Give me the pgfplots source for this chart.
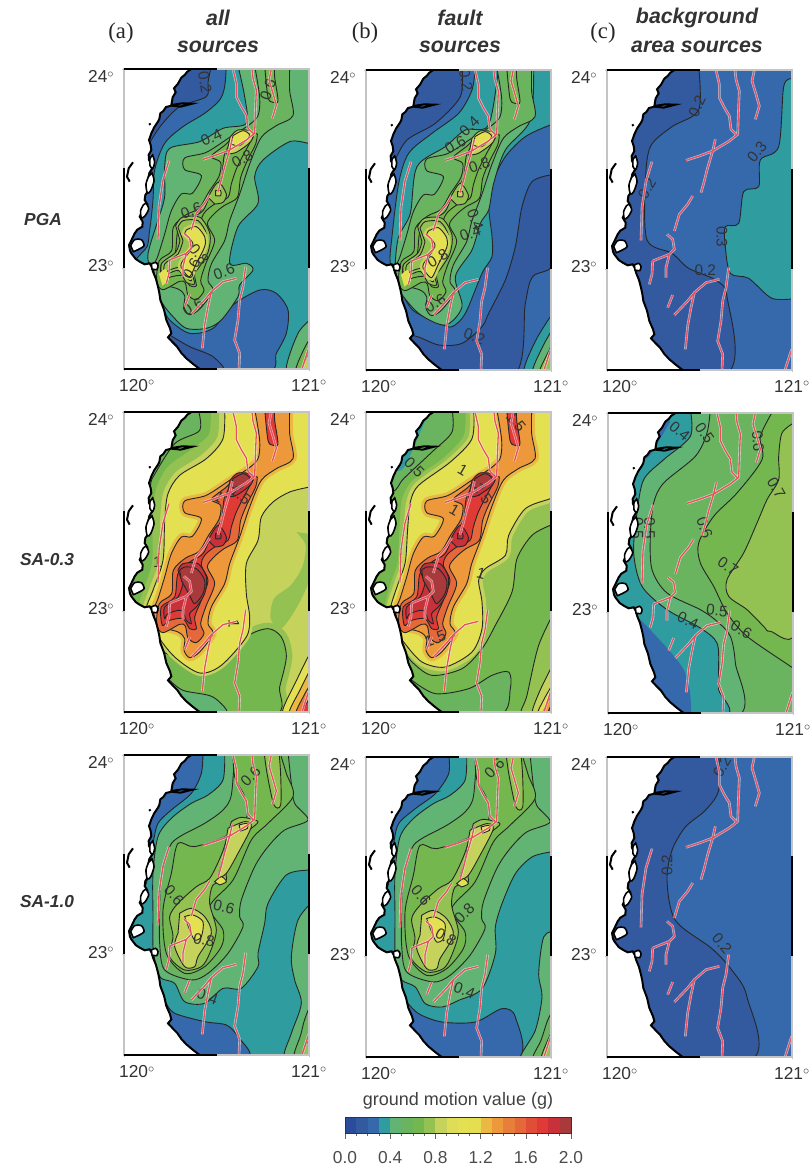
\documentclass[border=0pt]{standalone}
\usepackage{pgfplots}
\usepackage{pgfplotstable}
\usepackage{fontspec}
\pgfplotsset{compat=1.18}
\setmainfont{Liberation Sans}
\newfontfamily\serif{Liberation Serif}
\newdimen\pxu \pxu=0.75pt
\definecolor{c0}{HTML}{2B4C9B}\definecolor{c1}{HTML}{33599F}\definecolor{c2}{HTML}{3668AC}\definecolor{c3}{HTML}{2F9CA0}
\definecolor{c4}{HTML}{62B474}\definecolor{c5}{HTML}{6AB35F}\definecolor{c6}{HTML}{74B74F}\definecolor{c7}{HTML}{93C152}
\definecolor{c8}{HTML}{C5D25C}\definecolor{c9}{HTML}{DEDD57}\definecolor{c10}{HTML}{E3E052}\definecolor{c11}{HTML}{E5DE50}
\definecolor{c12}{HTML}{EBB943}\definecolor{c13}{HTML}{EC983B}\definecolor{c14}{HTML}{E77F3A}\definecolor{c15}{HTML}{E4683A}
\definecolor{c16}{HTML}{E04E38}\definecolor{c17}{HTML}{DF3A36}\definecolor{c18}{HTML}{C8303A}\definecolor{c19}{HTML}{A83A3C}
\definecolor{frm}{HTML}{C4C4C4}\definecolor{txt}{HTML}{333333}
\newcommand\Tab[2]{\pgfplotstableread[row sep=crcr]{#2}#1}
% ---- shared geometry, in units of 1/555 degree lon and 1/597 degree lat from the NW corner
\Tab\tFull{-20 -20\\590 -20\\590 920\\-20 920\\}
\Tab\tSea{202 -20\\202 0\\190 8\\182 18\\172 26\\162 44\\150 58\\155 70\\146 85\\142 108\\126 114\\118 126\\109 133\\106 150\\102 158\\90 176\\82 193\\78 205\\75 213\\80 228\\82 243\\74 258\\75 273\\83 286\\85 298\\76 312\\72 333\\78 348\\75 363\\64 378\\62 393\\70 406\\69 418\\54 430\\47 443\\56 458\\55 473\\40 482\\32 493\\24 510\\15 528\\18 545\\22 553\\35 570\\47 578\\62 586\\77 583\\84 595\\87 608\\96 630\\102 653\\106 672\\109 693\\120 722\\127 753\\138 778\\142 793\\132 805\\146 820\\159 833\\172 852\\187 868\\206 884\\227 900\\240 920\\-20 920\\-20 -20\\}
\Tab\tCoast{202 -20\\202 0\\190 8\\182 18\\172 26\\162 44\\150 58\\155 70\\146 85\\142 108\\175 103\\205 104\\170 113\\142 110\\126 114\\118 126\\109 133\\106 150\\102 158\\90 176\\82 193\\78 205\\75 213\\80 228\\82 243\\74 258\\75 273\\83 286\\85 298\\76 312\\72 333\\78 348\\75 363\\64 378\\62 393\\70 406\\69 418\\54 430\\47 443\\56 458\\55 473\\40 482\\32 493\\24 510\\15 528\\18 545\\22 553\\35 570\\47 578\\62 586\\77 583\\84 595\\87 608\\96 630\\102 653\\106 672\\109 693\\120 722\\127 753\\138 778\\142 793\\132 805\\146 820\\159 833\\172 852\\187 868\\206 884\\227 900\\240 920\\nan nan\\27 280\\14 298\\9 323\\17 338\\nan nan\\76 163\\79 168\\}
\Tab\tPondA{20 530\\32 512\\52 512\\60 530\\42 542\\28 548\\}
\Tab\tPondB{82 585\\95 580\\102 590\\98 602\\84 600\\}
\Tab\tIsA{84 312\\90 335\\80 365\\70 372\\66 345\\74 322\\}
\Tab\tIsB{66 402\\74 420\\62 442\\52 446\\50 425\\58 408\\}
\Tab\tIsC{86 258\\92 280\\86 298\\78 290\\78 268\\}
\Tab\tFault{327 0\\337 43\\337 83\\352 113\\367 138\\372 178\\387 193\\nan nan\\384 0\\387 28\\397 63\\394 133\\392 193\\367 213\\317 243\\277 258\\237 271\\nan nan\\442 0\\435 33\\447 73\\457 108\\445 148\\nan nan\\325 208\\317 243\\302 293\\292 333\\282 368\\nan nan\\257 378\\242 403\\217 433\\202 483\\nan nan\\135 275\\117 333\\105 413\\102 511\\nan nan\\180 493\\197 508\\202 538\\187 553\\137 573\\nan nan\\187 553\\177 593\\177 623\\nan nan\\137 573\\135 613\\127 643\\nan nan\\337 628\\297 638\\262 668\\242 693\\202 735\\nan nan\\197 675\\182 713\\nan nan\\262 668\\252 713\\242 768\\235 838\\nan nan\\365 593\\357 653\\347 693\\342 753\\332 813\\347 853\\345 900\\nan nan\\554 838\\534 900\\}
% ridge, shared by the upper two rows' (a) and (b) panels
\Tab\Pa{392 -10\\407 85\\402 140\\372 170\\317 205\\247 250\\182 267\\182 302\\232 320\\205 373\\172 375\\142 425\\122 495\\102 560\\89 595\\102 640\\162 660\\182 680\\180 715\\197 737\\227 720\\267 665\\252 635\\262 585\\302 515\\317 455\\347 375\\377 285\\412 205\\457 170\\507 140\\497 65\\497 -10\\}
\Tab\Pb{400 195\\395 225\\370 275\\350 325\\340 385\\300 410\\270 435\\250 465\\272 515\\245 585\\230 635\\240 665\\217 692\\192 678\\184 642\\167 637\\117 662\\98 637\\106 575\\143 545\\148 475\\185 438\\225 418\\255 368\\285 322\\290 280\\262 262\\307 225\\347 183\\}
\Tab\Pc{387 205\\362 250\\337 300\\322 345\\312 385\\272 405\\242 430\\232 460\\252 505\\232 565\\212 615\\217 650\\197 650\\177 620\\137 625\\115 640\\112 585\\152 555\\162 485\\197 450\\237 425\\262 370\\292 325\\302 255\\337 195\\}
\Tab\Pdd{155 470\\175 445\\228 445\\258 495\\252 550\\225 595\\207 620\\212 645\\187 640\\165 605\\132 615\\118 632\\112 585\\155 550\\168 515\\}
\Tab\Pd{162 475\\177 455\\222 455\\247 495\\242 545\\217 585\\197 605\\202 635\\187 625\\172 595\\132 605\\122 620\\122 585\\162 555\\177 515\\}
\Tab\Pdt{318 205\\342 183\\386 188\\380 218\\337 250\\308 255\\}
\Tab\Pdm{252 385\\282 340\\307 375\\297 400\\272 405\\}
\Tab\Pe{167 475\\182 465\\217 470\\242 505\\237 545\\212 575\\197 550\\172 505\\}
\Tab\Pf{187 483\\217 473\\242 503\\242 533\\217 583\\197 623\\177 603\\172 583\\207 528\\182 493\\}
\Tab\Pg{105 615\\125 600\\135 630\\115 650\\}
\Tab\Pet{327 200\\357 185\\377 200\\347 230\\322 225\\}
\Tab\Ped{275 365\\290 365\\290 380\\275 380\\}
\Tab\Ptop{422 -10\\432 85\\447 100\\462 95\\452 25\\452 -10\\}
% PGA (a)
\Tab\aN{307 -10\\302 53\\287 93\\242 133\\177 173\\122 223\\92 303\\87 393\\77 483\\62 543\\-20 560\\-20 -10\\}
\Tab\aNd{262 -10\\252 40\\247 83\\167 113\\112 168\\77 223\\70 260\\-20 260\\-20 -10\\}
\Tab\aS{112 708\\137 753\\197 793\\267 778\\327 708\\407 663\\457 673\\492 723\\487 793\\457 853\\427 910\\137 910\\50 708\\}
\Tab\aSd{137 798\\197 833\\267 863\\297 910\\150 910\\100 798\\}
\Tab\aG{342 -10\\362 83\\367 163\\297 178\\227 218\\137 238\\122 293\\122 383\\102 453\\77 533\\72 573\\92 643\\112 698\\147 743\\187 778\\247 778\\292 753\\342 683\\347 648\\387 603\\367 583\\317 583\\342 473\\402 403\\392 323\\417 273\\497 218\\554 223\\570 223\\570 -10\\}
\Tab\seA{570 743\\522 793\\487 910\\570 910\\}
\Tab\seB{570 790\\540 840\\515 910\\570 910\\}
\Tab\seC{570 820\\550 860\\532 910\\570 910\\}
% SA-0.3 (a)
\Tab\bY{302 -10\\297 80\\247 140\\167 190\\132 245\\122 325\\117 445\\87 535\\67 595\\97 665\\152 735\\227 783\\292 760\\367 675\\377 615\\367 545\\367 455\\402 385\\412 315\\447 270\\497 240\\557 225\\570 225\\570 -10\\}
\Tab\bBlob{517 360\\545 400\\535 465\\500 520\\450 560\\440 620\\470 650\\510 600\\550 520\\570 420\\550 365\\}
\Tab\bWa{285 -10\\280 75\\230 130\\155 180\\118 240\\108 325\\105 445\\75 530\\55 600\\85 680\\145 750\\220 800\\295 780\\370 690\\-20 920\\-20 -10\\}
\Tab\bWb{260 -10\\255 65\\205 110\\130 165\\95 235\\85 325\\85 445\\60 530\\40 600\\70 700\\135 770\\220 815\\300 795\\375 710\\-20 920\\-20 -10\\}
\Tab\bSo{60 700\\152 735\\227 783\\292 760\\367 675\\432 650\\472 675\\487 735\\467 825\\447 910\\100 910\\}
\Tab\bWc{222 -10\\227 55\\152 95\\87 195\\70 230\\-20 230\\-20 -10\\}
\Tab\bSt{132 800\\177 835\\267 855\\307 910\\150 910\\100 800\\}
\Tab\sea{570 700\\520 800\\475 910\\570 910\\}
\Tab\seb{570 750\\530 830\\495 910\\570 910\\}
\Tab\sec{570 800\\540 850\\515 910\\570 910\\}
\Tab\sed{570 840\\550 870\\530 910\\570 910\\}
% SA-1.0 (a)
\Tab\dN{237 -10\\232 55\\202 115\\142 165\\102 205\\87 265\\60 400\\-20 400\\-20 -10\\}
\Tab\dS{127 745\\152 775\\242 800\\307 810\\342 845\\367 910\\100 910\\50 745\\}
\Tab\dG{302 -10\\297 75\\252 120\\202 145\\142 190\\102 245\\87 355\\87 485\\87 575\\97 635\\112 670\\152 685\\182 740\\242 745\\297 700\\352 700\\402 635\\402 595\\422 505\\432 445\\487 360\\552 345\\570 345\\570 -10\\}
\Tab\dE{570 435\\522 495\\502 605\\512 675\\532 745\\502 835\\482 910\\570 910\\}
\Tab\dEb{570 745\\555 760\\540 800\\530 840\\510 910\\570 910\\}
\Tab\dEc{570 830\\545 870\\530 910\\570 910\\}
\Tab\dA{332 -10\\322 120\\297 165\\242 205\\167 245\\137 275\\112 365\\107 455\\107 565\\122 645\\202 675\\252 655\\312 595\\357 515\\347 485\\352 435\\392 335\\432 275\\482 225\\552 195\\512 145\\502 85\\492 -10\\}
\Tab\dB{327 -10\\332 65\\362 125\\367 190\\312 240\\212 275\\162 265\\142 355\\117 465\\127 595\\182 655\\242 635\\292 575\\297 525\\257 455\\327 375\\382 255\\432 205\\507 125\\487 55\\467 -10\\}
\Tab\dC{322 200\\352 187\\402 200\\372 230\\332 295\\307 355\\307 375\\267 390\\257 445\\277 525\\257 595\\232 635\\182 645\\137 605\\147 545\\137 485\\162 445\\217 395\\257 370\\292 300\\312 240\\}
\Tab\dT{420 -10\\430 60\\450 150\\470 150\\470 60\\465 -10\\}
\Tab\dD{167 475\\202 460\\242 485\\262 535\\222 605\\212 635\\182 635\\152 575\\162 535\\}
\Tab\dDt{312 220\\362 200\\382 215\\342 295\\307 355\\282 365\\297 310\\}
\Tab\dX{182 485\\207 480\\237 500\\232 545\\212 555\\197 525\\}
\Tab\dXm{272 380\\292 365\\307 380\\287 390\\}
\Tab\dXt{345 210\\370 205\\370 220\\350 228\\}
% SA-1.0 (b)
\Tab\eN{248 -10\\248 50\\208 110\\148 155\\98 200\\83 260\\60 400\\-20 400\\-20 -10\\}
\Tab\eS{118 730\\158 770\\228 795\\328 795\\408 755\\448 780\\448 910\\100 910\\60 730\\}
\Tab\eG{302 -10\\297 70\\252 115\\202 140\\142 185\\102 240\\87 350\\87 480\\88 630\\108 670\\148 690\\178 740\\228 750\\278 730\\348 695\\388 590\\388 510\\408 440\\448 350\\498 300\\553 285\\570 285\\570 -10\\}
\Tab\eE{570 520\\533 540\\518 650\\528 720\\508 820\\463 910\\570 910\\}
\Tab\eEb{570 740\\545 790\\525 850\\500 910\\570 910\\}
\Tab\eEc{570 800\\545 850\\525 910\\570 910\\}
% PGA (b)
\Tab\fD{553 315\\498 335\\468 410\\448 530\\418 630\\368 730\\348 770\\288 820\\218 825\\133 800\\150 920\\440 920\\478 700\\500 620\\570 570\\570 315\\}
\Tab\fN{288 -10\\283 80\\208 160\\123 210\\83 280\\60 340\\-20 340\\-20 -10\\}
\Tab\fT{328 -10\\318 60\\278 130\\198 190\\128 250\\98 340\\78 500\\73 580\\100 650\\140 720\\220 760\\258 770\\298 730\\348 610\\378 560\\378 500\\368 410\\378 340\\418 260\\478 200\\553 165\\570 165\\570 -10\\}
\Tab\fG{398 -10\\368 165\\298 180\\238 230\\153 290\\133 430\\98 500\\88 580\\93 650\\158 730\\238 765\\288 710\\268 620\\318 540\\343 460\\368 420\\383 340\\418 240\\493 150\\503 -10\\}
\Tab\fSa{570 715\\510 810\\475 910\\570 910\\}
\Tab\fSb{570 760\\530 830\\500 910\\570 910\\}
\Tab\fSc{570 800\\545 850\\520 910\\570 910\\}
% SA-0.3 (b)
\Tab\gS{553 340\\498 370\\453 440\\438 540\\388 640\\348 710\\288 770\\198 790\\138 750\\88 690\\-20 690\\-20 920\\570 920\\570 340\\}
\Tab\gA{570 590\\518 700\\483 850\\468 910\\570 910\\}
\Tab\gB{570 740\\520 840\\500 910\\570 910\\}
\Tab\gC{570 800\\535 860\\515 910\\570 910\\}
\Tab\gD{570 830\\550 860\\530 910\\570 910\\}
\Tab\gE{570 860\\555 880\\545 910\\570 910\\}
\Tab\gSt{138 805\\208 845\\308 830\\378 790\\428 780\\433 830\\398 910\\150 910\\100 805\\}
\Tab\gT{168 875\\218 910\\180 910\\150 875\\}
\Tab\gY{323 -10\\318 80\\253 150\\158 220\\133 270\\125 350\\118 450\\98 510\\73 590\\80 640\\113 690\\168 750\\238 765\\318 720\\348 650\\348 570\\338 505\\358 470\\418 430\\428 370\\478 290\\553 260\\570 250\\570 -10\\}
\Tab\gW{258 -10\\258 60\\198 120\\113 200\\78 240\\-20 240\\-20 -10\\}
\Tab\gWa{298 -10\\293 70\\235 135\\140 205\\108 260\\100 350\\95 450\\75 510\\55 590\\65 650\\100 710\\-20 710\\-20 -10\\}
\Tab\gTe{188 0\\118 160\\90 160\\170 -10\\}
% area sources
\Tab\hT{570 25\\555 25\\530 50\\515 230\\460 270\\455 350\\410 365\\395 460\\355 470\\355 530\\370 610\\425 625\\495 685\\570 685\\}
\Tab\hD{275 -10\\275 120\\195 170\\130 230\\115 340\\120 510\\195 550\\245 595\\325 630\\360 680\\360 910\\-20 910\\-20 -10\\}
\Tab\iA{557 30\\522 60\\512 130\\512 200\\477 260\\447 330\\407 420\\357 500\\362 550\\417 590\\467 640\\487 655\\570 635\\570 30\\}
\Tab\iB{497 -10\\457 70\\462 140\\387 240\\317 310\\272 390\\277 450\\317 520\\357 600\\417 670\\547 760\\570 780\\570 920\\-20 920\\-20 -10\\}
\Tab\iC{307 -10\\297 60\\262 130\\167 210\\137 270\\127 370\\132 470\\177 540\\277 590\\327 625\\367 670\\382 750\\387 910\\-20 910\\-20 -10\\}
\Tab\iD{247 -10\\247 70\\167 140\\107 200\\87 300\\77 420\\102 520\\177 590\\277 645\\327 690\\332 770\\332 830\\347 910\\-20 910\\-20 -10\\}
\Tab\iE{97 620\\227 770\\247 910\\187 910\\60 620\\}
\Tab\iF{187 25\\127 125\\110 130\\170 15\\}
\Tab\jD{335 -10\\335 100\\295 160\\235 210\\195 280\\180 370\\205 490\\315 575\\375 640\\420 720\\430 910\\-20 910\\-20 -10\\}
% ---- drawing helpers
\newcommand\R[2]{\addplot[fill=#1,draw=none,smooth,tension=.5] table[x expr=120+\thisrowno{0}/555,y expr=24-\thisrowno{1}/597]{#2} --cycle;}
\newcommand\C[2]{\addplot[fill=#1,draw=black!85,line width=.9\pxu,smooth,tension=.5] table[x expr=120+\thisrowno{0}/555,y expr=24-\thisrowno{1}/597]{#2} --cycle;}
\newcommand\HH[3]{\addplot[draw=#1,line width=#3\pxu,smooth,tension=.5] table[x expr=120+\thisrowno{0}/555,y expr=24-\thisrowno{1}/597]{#2} --cycle;}
\newcommand\lab[4]{\node[rotate=#3,font=\fontsize{11.5}{12}\selectfont,text=black!80,inner sep=0pt] at (axis cs:{120+#1/555},{24-#2/597}) {#4};}
\newcommand\isle[1]{\addplot[fill=white,draw=black,line width=1.6\pxu,smooth,tension=.5] table[x expr=120+\thisrowno{0}/555,y expr=24-\thisrowno{1}/597]{#1} --cycle;}
\newcommand\finish{%
 \addplot[fill=white,draw=none] table[x expr=120+\thisrowno{0}/555,y expr=24-\thisrowno{1}/597]{\tSea} --cycle;
 \addplot[black,line width=2\pxu,unbounded coords=jump] table[x expr=120+\thisrowno{0}/555,y expr=24-\thisrowno{1}/597]{\tCoast};
 \isle{\tPondA}\isle{\tPondB}\isle{\tIsA}\isle{\tIsB}\isle{\tIsC}
 \addplot[white,opacity=.6,line width=2.6\pxu,unbounded coords=jump] table[x expr=120+\thisrowno{0}/555,y expr=24-\thisrowno{1}/597]{\tFault};
 \addplot[color={rgb,255:red,232;green,80;blue,95},line width=1.3\pxu,unbounded coords=jump] table[x expr=120+\thisrowno{0}/555,y expr=24-\thisrowno{1}/597]{\tFault};
}
\pgfplotsset{
 mapbase/.style={scale only axis,width=185\pxu,height=300\pxu,anchor=south west,xmin=120,xmax=121,ymin=22.4925,ymax=24},
 mapfill/.style={mapbase,hide axis},
}
\newcommand\panel[3]{%
 \pgfmathsetmacro\yb{1170-#2-300}%
 \begin{axis}[mapfill,at={(#1\pxu,\yb\pxu)}]#3\finish\end{axis}
 \begin{axis}[mapbase,at={(#1\pxu,\yb\pxu)},clip=false,axis line style={frm,line width=1.3\pxu},tick style={frm,line width=.8\pxu},
   tick align=outside,major tick length=2\pxu,xtick={120,121},ytick={23,24},
   xtick pos=bottom,ytick pos=left,
   xticklabels={\hspace{26\pxu}120$^{\circ}$,121$^{\circ}$},
   yticklabels={\raisebox{-4\pxu}[0pt][0pt]{23$^{\circ}$},\raisebox{-14\pxu}[0pt][0pt]{24$^{\circ}$}},
   xticklabel style={font=\fontsize{13}{13}\selectfont,text=txt,yshift=-4\pxu},
   yticklabel style={font=\fontsize{13}{13}\selectfont,text=txt,xshift=-3\pxu}]
  \addplot[black,line width=1.5\pxu] coordinates {(120,24)(120.5,24)};
  \addplot[black,line width=1.5\pxu] coordinates {(120,22.4925)(120.5,22.4925)};
  \addplot[black,line width=1.5\pxu] coordinates {(120,23)(120,23.5)};
  \addplot[black,line width=1.5\pxu] coordinates {(121,23)(121,23.5)};
 \end{axis}
}
\newcommand\ridgePGA{\C{c5}{\Pa}\C{c6}{\Pb}\C{c6}{\Pc}\C{c7}{\Pdd}\C{c7}{\Pd}\C{c8}{\Pdt}\C{c7}{\Pdm}\C{c6}{\Ptop}\HH{c8}{\Pf}{6}\C{c10}{\Pf}\R{c10}{\Pg}\C{c10}{\Pet}\C{c8}{\Ped}}
\newcommand\ridgeSA{\HH{c12}{\Pa}{7}\C{c13}{\Pa}\C{c15}{\Pb}\C{c17}{\Pc}\C{c18}{\Pd}\C{c18}{\Pdt}\C{c18}{\Pdm}\C{c19}{\Pe}\C{c19}{\Pet}\C{c19}{\Ped}\C{c17}{\Ptop}}
\newcommand\sevenridge{\C{c6}{\dB}\C{c7}{\dC}\C{c7}{\dT}\C{c8}{\dD}\C{c8}{\dDt}\C{c10}{\dX}\C{c10}{\dXm}\C{c10}{\dXt}}
\newcommand\ttl[3]{\node[font=\fontsize{16}{16}\bfseries\itshape\selectfont,text=txt] at (#1\pxu,{(1170-#2)*\pxu}) {#3};}
\begin{document}
\begin{tikzpicture}
\useasboundingbox (0,0) rectangle (812\pxu,1170\pxu);
% PGA
\panel{124}{69}{\R{c3}{\tFull}\C{c2}{\aN}\C{c1}{\aNd}\C{c2}{\aS}\C{c1}{\aSd}\C{c4}{\aG}\C{c4}{\seA}\C{c6}{\seB}\C{c8}{\seC}
 \ridgePGA
 \lab{243}{40}{-80}{0.2}\lab{262}{205}{25}{0.4}\lab{432}{63}{70}{0.6}\lab{355}{270}{30}{0.8}\lab{202}{425}{20}{0.6}\lab{225}{555}{-50}{0.8}\lab{202}{600}{60}{0.6}\lab{207}{713}{30}{0.6}\lab{300}{608}{20}{0.6}}
\panel{366}{70}{\R{c2}{\tFull}\C{c1}{\fD}\C{c1}{\fN}\C{c3}{\fT}\C{c3}{\fSa}\C{c4}{\fSb}\C{c7}{\fSc}\C{c4}{\fG}
 \ridgePGA
 \lab{300}{30}{-80}{0.2}\lab{310}{170}{45}{0.4}\lab{268}{225}{30}{0.6}\lab{340}{285}{20}{0.8}\lab{328}{450}{-70}{0.4}\lab{313}{490}{20}{0.4}\lab{215}{565}{30}{0.8}\lab{208}{700}{30}{0.6}\lab{325}{800}{-20}{0.2}}
\panel{607}{70}{\R{c2}{\tFull}\C{c1}{\hD}\C{c3}{\hT}
 \lab{270}{110}{65}{0.2}\lab{120}{355}{60}{0.2}\lab{450}{245}{50}{0.3}\lab{345}{500}{-90}{0.3}\lab{295}{600}{0}{0.2}}
% SA-0.3
\panel{124}{412}{\R{c8}{\tFull}\R{c7}{\bBlob}\R{c7}{\bWa}\R{c6}{\bWb}\HH{c7}{\bSo}{12}\C{c6}{\bSo}\C{c5}{\bWc}\C{c4}{\bSt}\HH{c8}{\bY}{6}\C{c10}{\bY}\C{c10}{\sea}\C{c12}{\seb}\C{c14}{\sec}\C{c17}{\sed}
 \ridgeSA
 \lab{350}{250}{-40}{1.5}\lab{285}{255}{-30}{1}\lab{330}{635}{-90}{1}\lab{100}{452}{0}{1}}
\panel{366}{412}{\R{c7}{\tFull}\C{c6}{\gS}\C{c7}{\gA}\C{c8}{\gB}\C{c10}{\gC}\C{c13}{\gD}\C{c17}{\gE}\C{c5}{\gSt}\R{c3}{\gT}\R{c6}{\gWa}\C{c5}{\gW}\R{c3}{\gTe}\HH{c8}{\gY}{8}\C{c10}{\gY}
 \ridgeSA
 \lab{145}{165}{-45}{0.5}\lab{290}{175}{-30}{1}\lab{350}{245}{-55}{1.5}\lab{345}{485}{-15}{1}\lab{450}{30}{-50}{1.5}\lab{265}{295}{-30}{1}\lab{208}{680}{20}{1.5}}
\panel{608}{413}{\R{c6}{\tFull}\C{c7}{\iA}\C{c5}{\iB}\C{c4}{\iC}\C{c3}{\iD}\R{c2}{\iE}\R{c2}{\iF}
 \lab{215}{55}{-40}{0.4}\lab{290}{60}{-55}{0.5}\lab{450}{85}{-85}{0.6}\lab{505}{225}{-60}{0.7}\lab{125}{345}{-90}{0.5}\lab{90}{345}{-90}{0.5}\lab{290}{345}{-70}{0.6}\lab{360}{460}{-35}{0.7}\lab{327}{593}{-5}{0.5}\lab{240}{622}{-25}{0.4}\lab{400}{650}{-30}{0.6}}
% SA-1.0
\panel{124}{755}{\R{c3}{\tFull}\C{c2}{\dN}\C{c2}{\dS}\C{c4}{\dG}\C{c4}{\dE}\C{c5}{\dEb}\C{c7}{\dEc}\C{c5}{\dA}
 \sevenridge
 \lab{150}{420}{-50}{0.6}\lab{300}{455}{-15}{0.6}\lab{240}{555}{-10}{0.8}\lab{380}{65}{45}{0.6}\lab{250}{725}{-20}{0.4}}
\panel{366}{757}{\R{c3}{\tFull}\C{c2}{\eN}\C{c2}{\eS}\C{c4}{\eG}\C{c4}{\eE}\C{c5}{\eEb}\C{c7}{\eEc}\C{c5}{\dA}
 \sevenridge
 \lab{165}{415}{-50}{0.6}\lab{295}{470}{45}{0.8}\lab{240}{540}{-30}{0.8}\lab{385}{35}{45}{0.6}\lab{295}{700}{-20}{0.4}}
\panel{607}{757}{\R{c2}{\tFull}\C{c1}{\jD}
 \lab{180}{325}{90}{0.2}\lab{345}{560}{-50}{0.2}\lab{345}{30}{60}{0.2}}
% colour bar
\begin{axis}[scale only axis,width=226\pxu,height=16\pxu,anchor=south west,at={(345\pxu,36\pxu)},xmin=0,xmax=2,ymin=0,ymax=1,
  ytick=\empty,xtick={0,0.4,0.8,1.2,1.6,2},xticklabels={0.0,0.4,0.8,1.2,1.6,2.0},minor xtick={0.1,0.2,0.3,0.5,0.6,0.7,0.9,1.0,1.1,1.3,1.4,1.5,1.7,1.8,1.9},
  tick align=outside,major tick length=5\pxu,minor tick length=2\pxu,xtick pos=bottom,axis on top,
  axis line style={black!80,line width=1\pxu},tick style={black!60,line width=.6\pxu},
  xticklabel style={font=\fontsize{13}{13}\selectfont,text=black!70,yshift=-8\pxu},
  title={ground motion value (g)},title style={font=\fontsize{13.5}{14}\selectfont,text=black!75,yshift=-4\pxu}]
 \addplot[fill=c0,draw=none] coordinates {(0,0)(.1,0)(.1,1)(0,1)};
 \addplot[fill=c1,draw=none] coordinates {(.1,0)(.2,0)(.2,1)(.1,1)};
 \addplot[fill=c2,draw=none] coordinates {(.2,0)(.3,0)(.3,1)(.2,1)};
 \addplot[fill=c3,draw=none] coordinates {(.3,0)(.4,0)(.4,1)(.3,1)};
 \addplot[fill=c4,draw=none] coordinates {(.4,0)(.5,0)(.5,1)(.4,1)};
 \addplot[fill=c5,draw=none] coordinates {(.5,0)(.6,0)(.6,1)(.5,1)};
 \addplot[fill=c6,draw=none] coordinates {(.6,0)(.7,0)(.7,1)(.6,1)};
 \addplot[fill=c7,draw=none] coordinates {(.7,0)(.8,0)(.8,1)(.7,1)};
 \addplot[fill=c8,draw=none] coordinates {(.8,0)(.9,0)(.9,1)(.8,1)};
 \addplot[fill=c9,draw=none] coordinates {(.9,0)(1,0)(1,1)(.9,1)};
 \addplot[fill=c10,draw=none] coordinates {(1,0)(1.1,0)(1.1,1)(1,1)};
 \addplot[fill=c11,draw=none] coordinates {(1.1,0)(1.2,0)(1.2,1)(1.1,1)};
 \addplot[fill=c12,draw=none] coordinates {(1.2,0)(1.3,0)(1.3,1)(1.2,1)};
 \addplot[fill=c13,draw=none] coordinates {(1.3,0)(1.4,0)(1.4,1)(1.3,1)};
 \addplot[fill=c14,draw=none] coordinates {(1.4,0)(1.5,0)(1.5,1)(1.4,1)};
 \addplot[fill=c15,draw=none] coordinates {(1.5,0)(1.6,0)(1.6,1)(1.5,1)};
 \addplot[fill=c16,draw=none] coordinates {(1.6,0)(1.7,0)(1.7,1)(1.6,1)};
 \addplot[fill=c17,draw=none] coordinates {(1.7,0)(1.8,0)(1.8,1)(1.7,1)};
 \addplot[fill=c18,draw=none] coordinates {(1.8,0)(1.9,0)(1.9,1)(1.8,1)};
 \addplot[fill=c19,draw=none] coordinates {(1.9,0)(2,0)(2,1)(1.9,1)};
\end{axis}
% headings
\ttl{218}{18}{all}\ttl{218}{47}{sources}
\ttl{460}{18}{fault}\ttl{460}{47}{sources}
\ttl{697}{18}{background}\ttl{697}{47}{area sources}
\node[font=\fontsize{13}{13}\bfseries\itshape\selectfont,text=txt] at (43\pxu,{(1170-220)*\pxu}) {PGA};
\node[font=\fontsize{13}{13}\bfseries\itshape\selectfont,text=txt] at (47\pxu,{(1170-560)*\pxu}) {SA-0.3};
\node[font=\fontsize{13}{13}\bfseries\itshape\selectfont,text=txt] at (47\pxu,{(1170-902)*\pxu}) {SA-1.0};
\node[font=\serif\fontsize{17}{17}\selectfont,text=black!85] at (121\pxu,{(1170-33)*\pxu}) {(a)};
\node[font=\serif\fontsize{17}{17}\selectfont,text=black!85] at (365\pxu,{(1170-33)*\pxu}) {(b)};
\node[font=\serif\fontsize{17}{17}\selectfont,text=black!85] at (603\pxu,{(1170-33)*\pxu}) {(c)};
\end{tikzpicture}
\end{document}
